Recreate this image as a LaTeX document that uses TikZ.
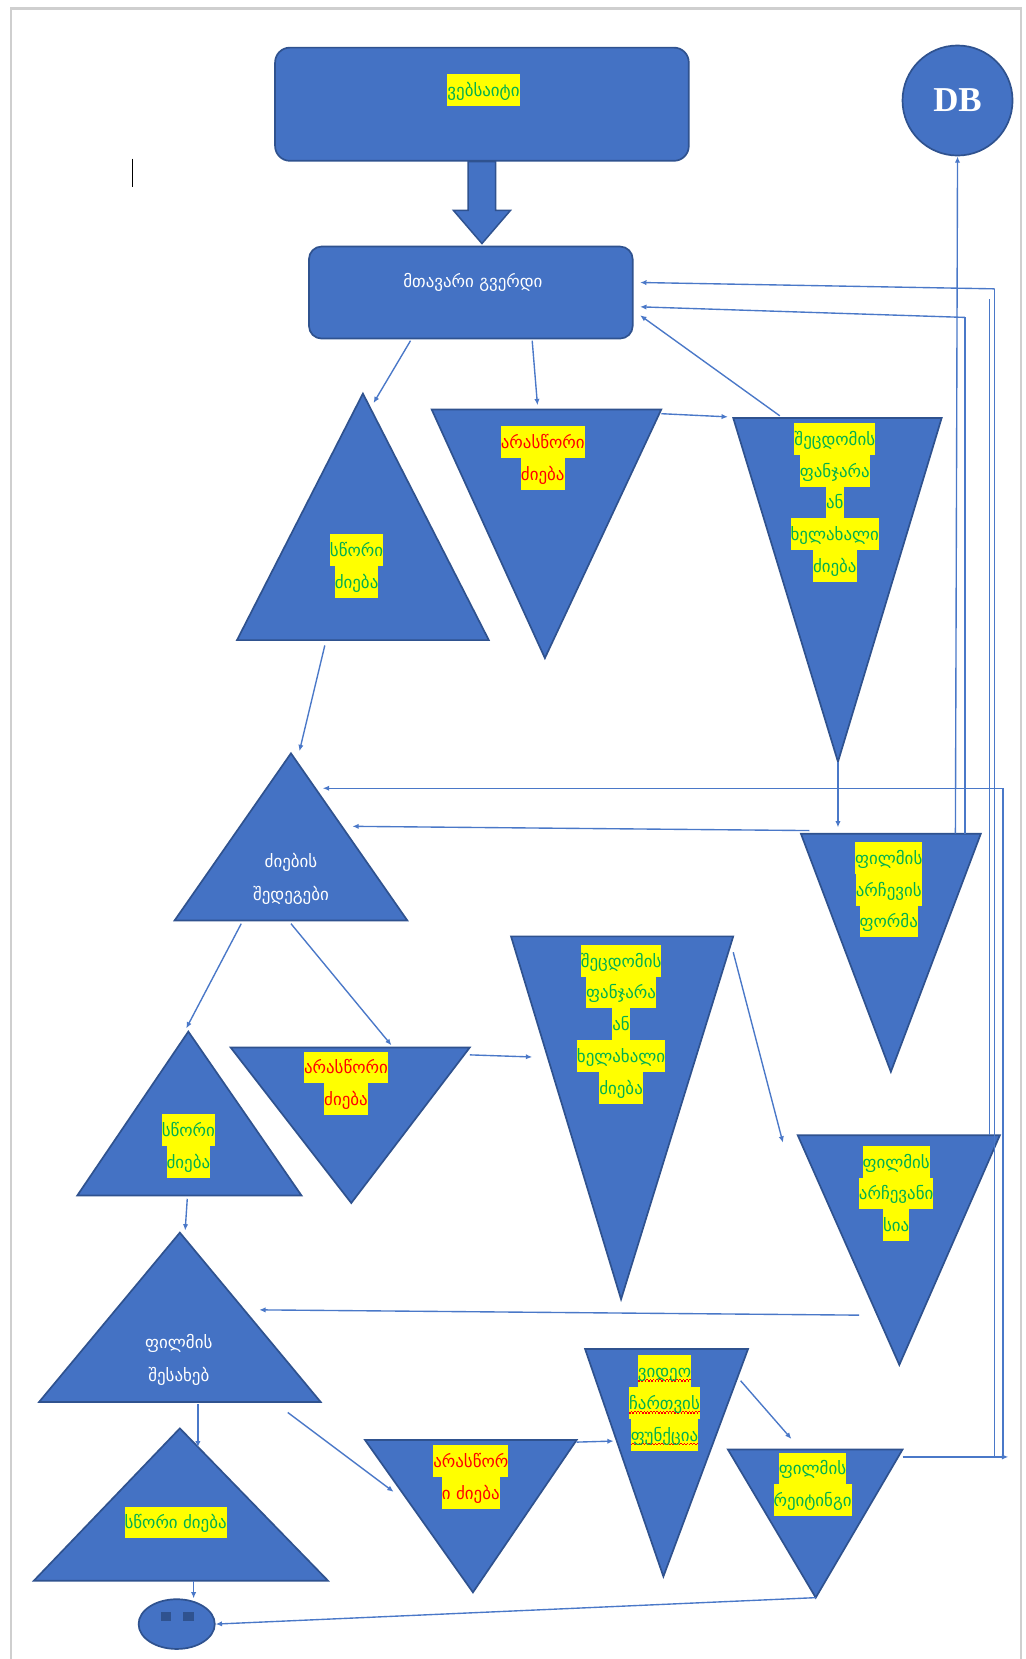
\documentclass[tikz,border=0pt]{standalone}
\usepackage{fontspec}
\newfontfamily\geo{DejaVu Sans}
\newfontfamily\dbfont{Liberation Serif}
\usetikzlibrary{arrows.meta,calc,shapes.geometric}
\definecolor{shapefill}{HTML}{4472C4}
\definecolor{shapeedge}{HTML}{2F528F}
\definecolor{wordgreen}{HTML}{00B050}
\definecolor{hlyellow}{HTML}{FFFF00}
\definecolor{wordred}{HTML}{FF0000}
\definecolor{linkblue}{HTML}{4A78C8}
\definecolor{framegray}{HTML}{CFCFCF}
\setlength\fboxsep{0pt}
% one highlighted line of text
\newcommand\hl[1]{\colorbox{hlyellow}{\rule[-9pt]{0pt}{30pt}#1}}
% red wavy spelling underline under a word
\newsavebox\wavebox
\newcommand\wavy[1]{\sbox\wavebox{#1}\rlap{\raisebox{-4pt}{\textcolor{wordred}{\hbox to\wd\wavebox{\xleaders\hbox{\rule{1.5pt}{1.3pt}\rule[1.3pt]{1.5pt}{1.3pt}}\hfill}}}}\usebox\wavebox}
\begin{document}
\begin{tikzpicture}[x=1pt,y=-1pt,
  rbox/.style={draw=shapeedge,fill=shapefill,line width=1.6pt,rounded corners=14pt},
  tri/.style={draw=shapeedge,fill=shapefill,line width=1.6pt,line join=miter},
  hltext/.style={font=\geo\fontsize{16}{30}\selectfont,text=wordgreen,align=center,inner sep=0pt},
  redtext/.style={hltext,text=wordred},
  whitetext/.style={font=\geo\fontsize{16}{31}\selectfont,text=white,align=center,inner sep=0pt},
  link/.style={draw=linkblue,line width=1.3pt,-{Latex[length=6pt,width=5pt]}},
  bus/.style={draw=linkblue,line width=1.3pt}]
\useasboundingbox (0,0) rectangle (969,1568);
\fill[white] (0,0) rectangle (969,1568);
% page frame
\draw[framegray,line width=2pt] (10,1570) -- (10,8) -- (965,8) -- (965,1570);
% text cursor
\draw[black,line width=1.2pt] (125,150) -- (125,177);

% top boxes
\node[rbox,minimum width=391pt,minimum height=107pt] (web) at (455.5,98.5) {};
\node[hltext] (webtxt) at (457,85) {\hl{ვებსაიტი}};
\node[rbox,minimum width=306pt,minimum height=87pt,rounded corners=12pt] (main) at (445,276.5) {};
\node[whitetext] (maintxt) at (447,267) {მთავარი გვერდი};
% block arrow between the boxes
\coordinate (tip) at ($(main.north -| web.south)+(0,-2)$);
\draw[tri,line width=1.4pt] ($(web.south)+(-13,0)$) -- ++(0,46) -- ++(-14,0) -- (tip)
  -- ($(web.south)+(27,46)$) -- ++(-14,0) -- ($(web.south)+(13,0)$) -- cycle;

% database
\node[circle,draw=shapeedge,fill=shapefill,line width=1.6pt,minimum size=104pt,inner sep=0pt,
  font=\dbfont\bfseries\fontsize{33}{33}\selectfont,text=white] (db) at (905,95) {DB};

% triangles, each with named corners
\path[tri] (343,372) coordinate (A1) -- (462,605) coordinate (A2) -- (224,605) coordinate (A3) -- cycle;
\node[hltext] (Atxt) at (337,535) {\hl{სწორი}\\\hl{ძიება}};

\path[tri] (408,387) coordinate (B1) -- (625,387) coordinate (B2) -- (515,622) coordinate (B3) -- cycle;
\node[redtext] (Btxt) at (513,433) {\hl{არასწორი}\\\hl{ძიება}};

\path[tri] (693,395) coordinate (C1) -- (890,395) coordinate (C2) -- (792,720) coordinate (C3) -- cycle;
\node[hltext] (Ctxt) at (789,475) {\hl{შეცდომის}\\\hl{ფანჯარა}\\\hl{ან}\\\hl{ხელახალი}\\\hl{ძიება}};

\path[tri] (275,712) coordinate (D1) -- (385,870) coordinate (D2) -- (165,870) coordinate (D3) -- cycle;
\node[whitetext] (Dtxt) at (275,831) {ძიების\\შედეგები};

\path[tri] (757,788) coordinate (E1) -- (927,788) coordinate (E2) -- (842,1013) coordinate (E3) -- cycle;
\node[hltext] (Etxt) at (840,841) {\hl{ფილმის}\\\hl{არჩევის}\\\hl{ფორმა}};

\path[tri] (178,975) coordinate (F1) -- (285,1130) coordinate (F2) -- (73,1130) coordinate (F3) -- cycle;
\node[hltext] (Ftxt) at (178,1083) {\hl{სწორი}\\\hl{ძიება}};

\path[tri] (218,990) coordinate (G1) -- (444,990) coordinate (G2) -- (332,1137) coordinate (G3) -- cycle;
\node[redtext] (Gtxt) at (327,1024) {\hl{არასწორი}\\\hl{ძიება}};

\path[tri] (483,885) coordinate (H1) -- (693,885) coordinate (H2) -- (587,1228) coordinate (H3) -- cycle;
\node[hltext] (Htxt) at (587,968) {\hl{შეცდომის}\\\hl{ფანჯარა}\\\hl{ან}\\\hl{ხელახალი}\\\hl{ძიება}};

\path[tri] (754,1073) coordinate (I1) -- (945,1073) coordinate (I2) -- (850,1290) coordinate (I3) -- cycle;
\node[hltext] (Itxt) at (847,1128) {\hl{ფილმის}\\\hl{არჩევანი}\\\hl{სია}};

\path[tri] (170,1165) coordinate (J1) -- (303,1325) coordinate (J2) -- (37,1325) coordinate (J3) -- cycle;
\node[whitetext] (Jtxt) at (169,1285) {ფილმის\\შესახებ};

\path[tri] (170,1350) coordinate (K1) -- (310,1494) coordinate (K2) -- (32,1494) coordinate (K3) -- cycle;
\node[hltext] (Ktxt) at (166,1439) {\hl{სწორი ძიება}};

\path[tri] (345,1361) coordinate (L1) -- (545,1361) coordinate (L2) -- (447,1505) coordinate (L3) -- cycle;
\node[redtext] (Ltxt) at (445,1396) {\hl{არასწორ}\\\hl{ი ძიება}};

\path[tri] (553,1275) coordinate (M1) -- (707,1275) coordinate (M2) -- (627,1490) coordinate (M3) -- cycle;
\node[hltext] (Mtxt) at (628,1326) {\hl{\wavy{ვიდეო}}\\\hl{\wavy{ჩართვის}}\\\hl{\wavy{ფუნქცია}}};

\path[tri] (688,1370) coordinate (N1) -- (853,1370) coordinate (N2) -- (771,1510) coordinate (N3) -- cycle;
\node[hltext] (Ntxt) at (768,1403) {\hl{ფილმის}\\\hl{რეიტინგი}};

% end state
\node[ellipse,draw=shapeedge,fill=shapefill,line width=1.6pt,minimum width=72pt,minimum height=47pt,inner sep=0pt] (stop) at (167,1535) {};
\fill[shapeedge] ($(stop.center)+(-15,-11)$) rectangle ++(10,8);
\fill[shapeedge] ($(stop.center)+(6,-11)$) rectangle ++(10,8);

% connector ends
\coordinate (busR) at (940,273);
\coordinate (busE) at (912,300);
\coordinate (busD) at (948,745);
\coordinate (busN) at (953,1377);

% connectors
\draw[link] (388,322) -- (353,381);
\draw[link] (503,322) -- (508,383);
\draw[link] (B2) ++(0,4) -- (688,394);
\draw[link] (737,393) -- (605,298);
\draw[link] (busR) -- (605,267);
\draw[bus] (912,788) -- (busE);
\draw[link] (busE) -- (605,290);
\draw[link] (903,788) -- (db.south);
\draw[bus] (940,1377) -- (busR);
\draw[bus] (935,1073) -- (935,283);
\draw[bus] (948,1377) -- (busD);
\draw[link] (busD) -- (305,745);
\draw[link] (765,785) -- (333,781);
\draw[link] (C3) -- (792,782);
\draw[link] (307,610) -- (283,710);
\draw[link] (228,873) -- (176,972);
\draw[link] (275,873) -- (370,988);
\draw[link] (444,997) -- (503,999);
\draw[link] (693,900) -- (740,1080);
\draw[link] (177,1133) -- (175,1163);
\draw[link] (812,1243) -- (245,1238);
\draw[link] (187,1327) -- (187,1368);
\draw[link] (272,1335) -- (372,1410);
\draw[link] (545,1363) -- (580,1362);
\draw[link] (700,1305) -- (748,1360);
\draw[link] (853,1377) -- (busN);
\draw[link] (771,1510) -- (stop.east);
\draw[link] (183,1494) -- (stop.north -| 183,0);
\end{tikzpicture}
\end{document}
